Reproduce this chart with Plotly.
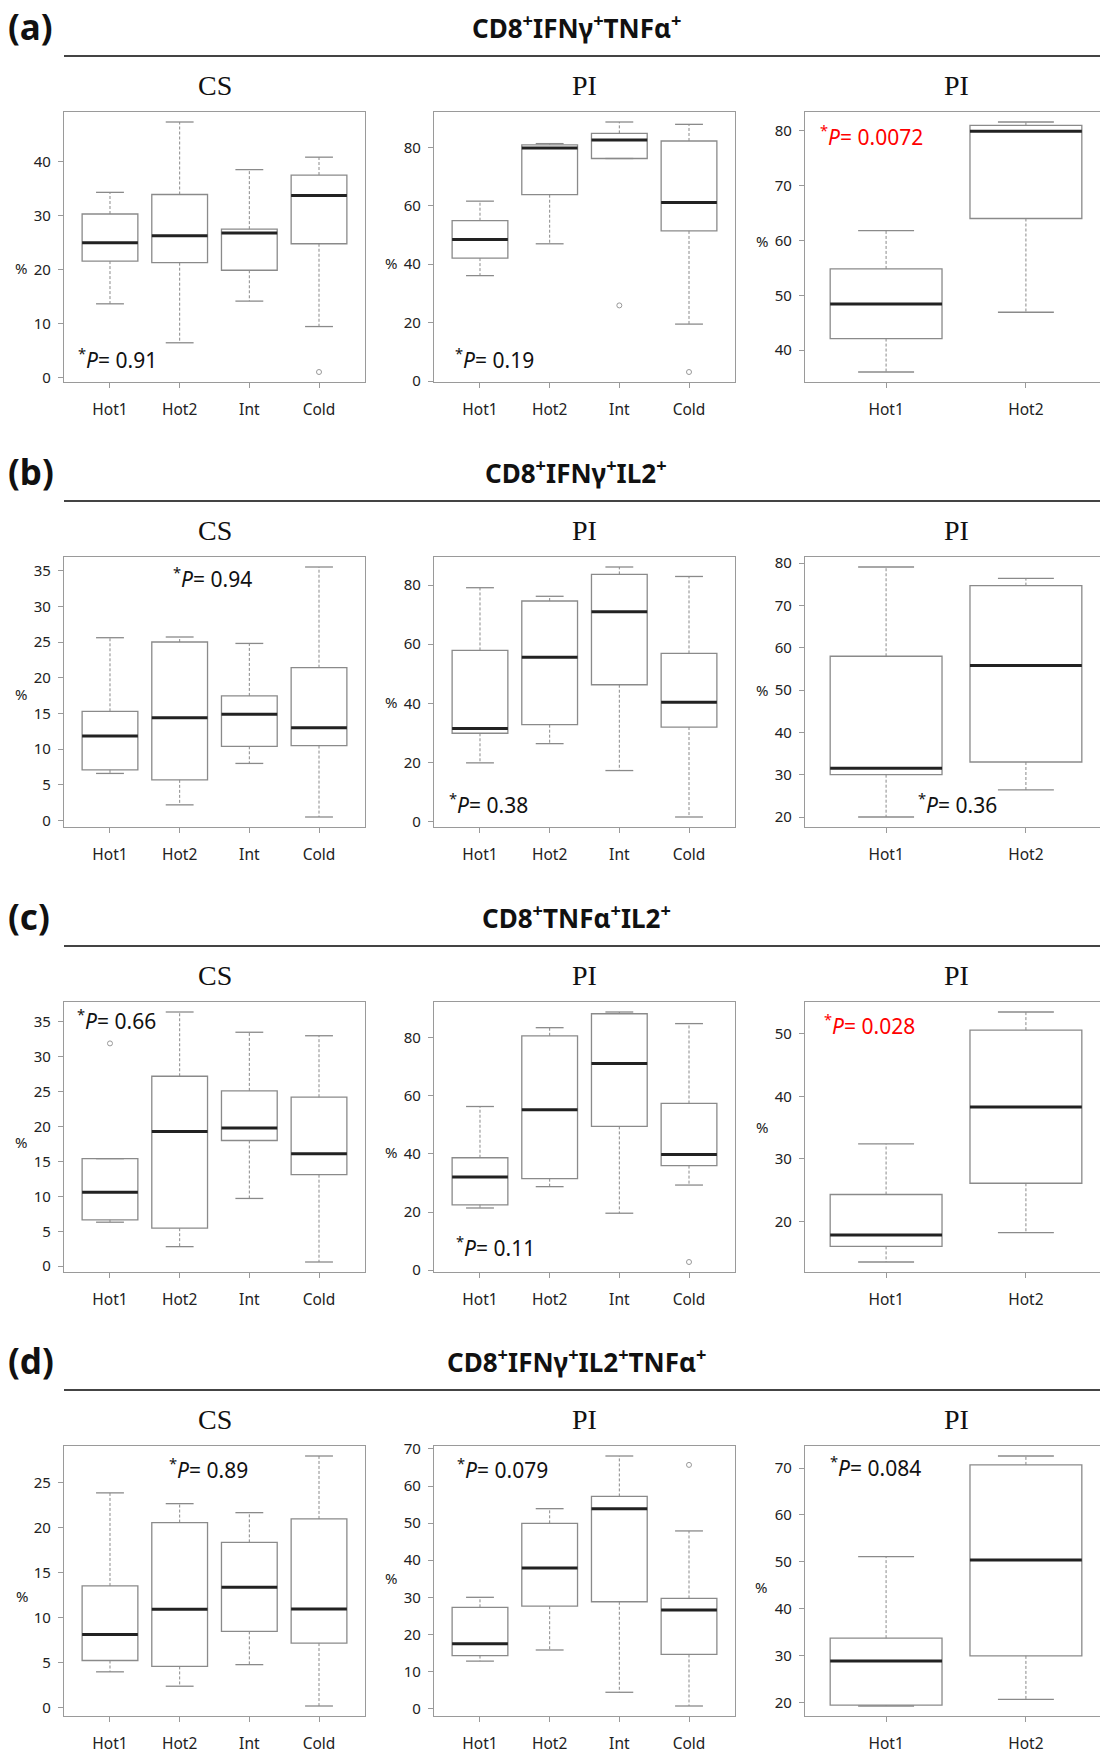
import plotly.graph_objects as go

W, H = 1100, 1750

# ---------------- data ----------------
groups4 = ["Hot1", "Hot2", "Int", "Cold"]
groups2 = ["Hot1", "Hot2"]

row_labels = ["(a)", "(b)", "(c)", "(d)"]
row_titles = [
    "CD8<sup>+</sup>IFNγ<sup>+</sup>TNFα<sup>+</sup>",
    "CD8<sup>+</sup>IFNγ<sup>+</sup>IL2<sup>+</sup>",
    "CD8<sup>+</sup>TNFα<sup>+</sup>IL2<sup>+</sup>",
    "CD8<sup>+</sup>IFNγ<sup>+</sup>IL2<sup>+</sup>TNFα<sup>+</sup>",
]
panel_titles = ["CS", "PI", "PI"]

# five-number summaries per group: [lower whisker, Q1, median, Q3, upper whisker]
a_cs = [[13.7, 21.6, 25.0, 30.3, 34.3], [6.5, 21.3, 26.3, 33.9, 47.3],
        [14.2, 19.9, 26.8, 27.5, 38.5], [9.5, 24.8, 33.7, 37.5, 40.8]]
a_cs_out = [("Cold", 1.1)]
a_pi4 = [[36.1, 42.1, 48.5, 54.9, 61.6], [47.0, 63.8, 79.8, 80.9, 81.3],
         [76.2, 76.2, 82.5, 84.8, 88.7], [19.5, 51.4, 61.1, 82.2, 87.9]]
a_pi4_out = [("Int", 25.9), ("Cold", 3.1)]
a_pi2 = [[36.0, 42.1, 48.4, 54.8, 61.8], [46.9, 64.0, 79.9, 81.0, 81.6]]
a_pi2_out = []

b_cs = [[6.6, 7.1, 11.85, 15.3, 25.6], [2.2, 5.7, 14.4, 25.0, 25.7],
        [8.0, 10.4, 14.9, 17.45, 24.8], [0.5, 10.5, 13.0, 21.4, 35.5]]
b_cs_out = []
b_pi4 = [[19.9, 29.9, 31.5, 57.9, 79.1], [26.4, 32.8, 55.6, 74.6, 76.2],
         [17.3, 46.3, 71.0, 83.6, 86.1], [1.6, 32.0, 40.4, 56.9, 82.9]]
b_pi4_out = []
b_pi2 = [[20.0, 30.0, 31.5, 58.0, 79.1], [26.4, 33.0, 55.8, 74.7, 76.4]]
b_pi2_out = []

c_cs = [[6.3, 6.64, 10.6, 15.4, 15.4], [2.8, 5.44, 19.3, 27.2, 36.4],
        [9.7, 18.0, 19.8, 25.1, 33.5], [0.6, 13.1, 16.1, 24.2, 33.0]]
c_cs_out = [("Hot1", 31.9)]
c_pi4 = [[21.4, 22.5, 32.1, 38.7, 56.35], [28.75, 31.5, 55.2, 80.7, 83.5],
         [19.6, 49.5, 71.2, 88.3, 88.9], [29.3, 36.0, 39.8, 57.4, 84.9]]
c_pi4_out = [("Cold", 2.8)]
c_pi2 = [[13.5, 16.0, 17.8, 24.3, 32.4], [18.2, 26.1, 38.3, 50.6, 53.5]]
c_pi2_out = []

d_cs = [[4.0, 5.26, 8.15, 13.55, 23.9], [2.4, 4.6, 10.96, 20.6, 22.7],
        [4.8, 8.5, 13.4, 18.4, 21.7], [0.2, 7.2, 11.0, 21.0, 28.0]]
d_cs_out = []
d_pi4 = [[12.8, 14.3, 17.5, 27.3, 30.0], [15.8, 27.6, 37.9, 49.95, 53.9],
         [4.4, 28.8, 53.9, 57.2, 68.1], [0.7, 14.6, 26.6, 29.7, 47.9]]
d_pi4_out = [("Cold", 65.7)]
d_pi2 = [[19.2, 19.4, 28.8, 33.7, 51.1], [20.6, 29.9, 50.4, 70.7, 72.6]]
d_pi2_out = []

# y tick values per panel
a_ticks = [[0, 10, 20, 30, 40], [0, 20, 40, 60, 80], [40, 50, 60, 70, 80]]
b_ticks = [[0, 5, 10, 15, 20, 25, 30, 35], [0, 20, 40, 60, 80], [20, 30, 40, 50, 60, 70, 80]]
c_ticks = [[0, 5, 10, 15, 20, 25, 30, 35], [0, 20, 40, 60, 80], [20, 30, 40, 50]]
d_ticks = [[0, 5, 10, 15, 20, 25], [0, 10, 20, 30, 40, 50, 60, 70], [20, 30, 40, 50, 60, 70]]

# p-values per panel and whether significant
a_p = ["0.91", "0.19", "0.0072"]
b_p = ["0.94", "0.38", "0.36"]
c_p = ["0.66", "0.11", "0.028"]
d_p = ["0.89", "0.079", "0.084"]
a_sig = [False, False, True]
b_sig = [False, False, False]
c_sig = [False, False, True]
d_sig = [False, False, False]

# ---------------- layout constants ----------------
rows_stats = [[a_cs, a_pi4, a_pi2], [b_cs, b_pi4, b_pi2], [c_cs, c_pi4, c_pi2], [d_cs, d_pi4, d_pi2]]
rows_out = [[a_cs_out, a_pi4_out, a_pi2_out], [b_cs_out, b_pi4_out, b_pi2_out],
            [c_cs_out, c_pi4_out, c_pi2_out], [d_cs_out, d_pi4_out, d_pi2_out]]
rows_ticks = [a_ticks, b_ticks, c_ticks, d_ticks]
rows_p = [a_p, b_p, c_p, d_p]
rows_sig = [a_sig, b_sig, c_sig, d_sig]

row_top = [112, 557, 1002, 1446]
plot_h = 270
col_x = [(64, 365), (434, 735), (805, 1107)]

pval_pos = [[(76, 358), (453, 358), (818, 135)],
            [(171, 577), (447, 803), (916, 803)],
            [(75, 1019), (454, 1246), (822, 1024)],
            [(167, 1468), (455, 1468), (828, 1466)]]
pct_pos = [[(21, 268), (391, 263), (762, 241)],
           [(21, 694), (391, 702), (762, 690)],
           [(21, 1142), (391, 1152), (762, 1127)],
           [(22, 1596), (391, 1578), (761, 1587)]]

FONT = "Noto Sans"
FRAME = "#9a9a9a"
BOXC = "#8a8a8a"
TXT = "#222222"

fig = go.Figure()
layout = {}
annotations = []
shapes = []

def px(x):
    return x / W

def py(y):
    return 1 - y / H

for r in range(4):
    top = row_top[r]
    # row label, row title, separator line
    annotations.append(dict(text="<b>" + row_labels[r] + "</b>", x=px(6), y=py(top - 86),
                            xref="paper", yref="paper", xanchor="left", yanchor="middle",
                            showarrow=False, font=dict(family=FONT, size=35, color="#111")))
    annotations.append(dict(text="<b>" + row_titles[r] + "</b>", x=px(576), y=py(top - 85),
                            xref="paper", yref="paper", xanchor="center", yanchor="middle",
                            showarrow=False, font=dict(family=FONT, size=26, color="#111")))
    shapes.append(dict(type="line", xref="paper", yref="paper", x0=px(64), x1=1,
                       y0=py(top - 56), y1=py(top - 56), line=dict(color="#444", width=2)))
    for c in range(3):
        k = r * 3 + c + 1
        xname = "x" if k == 1 else f"x{k}"
        yname = "y" if k == 1 else f"y{k}"
        xkey = "xaxis" if k == 1 else f"xaxis{k}"
        ykey = "yaxis" if k == 1 else f"yaxis{k}"
        stats = rows_stats[r][c]
        outs = rows_out[r][c]
        groups = groups4 if len(stats) == 4 else groups2
        n = len(groups)
        pos = list(range(1, n + 1))
        low = [s[0] for s in stats]
        q1 = [s[1] for s in stats]
        med = [s[2] for s in stats]
        q3 = [s[3] for s in stats]
        high = [s[4] for s in stats]

        # boxes
        fig.add_trace(go.Box(x=pos, q1=q1, median=med, q3=q3, lowerfence=q1, upperfence=q3,
                             width=0.8, fillcolor="white", line=dict(color=BOXC, width=1.3),
                             boxpoints=False, hoverinfo="skip", showlegend=False,
                             xaxis=xname, yaxis=yname))
        # whiskers (dashed), staples, medians
        wx, wy, cx, cy, mx, my = [], [], [], [], [], []
        for i in range(n):
            p = pos[i]
            wx += [p, p, None, p, p, None]
            wy += [q3[i], high[i], None, q1[i], low[i], None]
            cx += [p - 0.2, p + 0.2, None, p - 0.2, p + 0.2, None]
            cy += [high[i], high[i], None, low[i], low[i], None]
            mx += [p - 0.4, p + 0.4, None]
            my += [med[i], med[i], None]
        fig.add_trace(go.Scatter(x=wx, y=wy, mode="lines", line=dict(color=BOXC, width=1, dash="3px,2px"),
                                 hoverinfo="skip", showlegend=False, xaxis=xname, yaxis=yname))
        fig.add_trace(go.Scatter(x=cx, y=cy, mode="lines", line=dict(color=BOXC, width=1.3),
                                 hoverinfo="skip", showlegend=False, xaxis=xname, yaxis=yname))
        fig.add_trace(go.Scatter(x=mx, y=my, mode="lines", line=dict(color="#222", width=3),
                                 hoverinfo="skip", showlegend=False, xaxis=xname, yaxis=yname))
        if outs:
            fig.add_trace(go.Scatter(x=[groups.index(g) + 1 for g, v in outs], y=[v for g, v in outs],
                                     mode="markers",
                                     marker=dict(symbol="circle-open", size=5, color="#999",
                                                 line=dict(width=1)),
                                     hoverinfo="skip", showlegend=False, xaxis=xname, yaxis=yname))

        # ranges (R-like 4% extension)
        vals = low + high + [v for g, v in outs]
        lo, hi = min(vals), max(vals)
        pad = 0.04 * (hi - lo)
        yr = [lo - pad, hi + pad]
        xlo, xhi = 0.5 - 0.04 * n, n + 0.5 + 0.04 * n
        x0p, x1p = col_x[c]
        if x1p > W:
            xhi = xlo + (xhi - xlo) * (W - x0p) / (x1p - x0p)
            x1p = W
        layout[xkey] = dict(domain=[px(x0p), px(x1p)], range=[xlo, xhi], anchor=yname,
                            tickvals=pos, ticktext=groups, ticks="outside", ticklen=5,
                            tickcolor=FRAME, showline=True, linecolor=FRAME, linewidth=1.3,
                            mirror=True, showgrid=False, zeroline=False, automargin=False,
                            ticklabelstandoff=8,
                            tickfont=dict(family=FONT, size=15.5, color=TXT))
        layout[ykey] = dict(domain=[py(top + plot_h), py(top)], range=yr, anchor=xname,
                            tickvals=rows_ticks[r][c], ticks="outside", ticklen=5,
                            tickcolor=FRAME, showline=True, linecolor=FRAME, linewidth=1.3,
                            mirror=(c < 2), showgrid=False, zeroline=False, automargin=False,
                            ticklabelstandoff=4,
                            tickfont=dict(family=FONT, size=15, color=TXT))
        # panel title
        annotations.append(dict(text=panel_titles[c], x=px((col_x[c][0] + col_x[c][1]) / 2),
                                y=py(top - 27), xref="paper", yref="paper",
                                xanchor="center", yanchor="middle", showarrow=False,
                                font=dict(family="Liberation Serif", size=28, color="#111")))
        # p-value
        colr = "#ff0000" if rows_sig[r][c] else "#111"
        ppx, ppy = pval_pos[r][c]
        annotations.append(dict(text="<sup>*</sup><i>P</i>= " + rows_p[r][c], x=px(ppx), y=py(ppy),
                                xref="paper", yref="paper", xanchor="left", yanchor="middle",
                                showarrow=False, font=dict(family=FONT, size=21, color=colr)))
        # % label
        qx, qy = pct_pos[r][c]
        annotations.append(dict(text="%", x=px(qx), y=py(qy), xref="paper", yref="paper",
                                xanchor="center", yanchor="middle", showarrow=False,
                                font=dict(family=FONT, size=15, color=TXT)))

fig.update_layout(width=W, height=H, margin=dict(l=0, r=0, t=0, b=0, autoexpand=False),
                  paper_bgcolor="white", plot_bgcolor="white",
                  annotations=annotations, shapes=shapes, showlegend=False, **layout)

fig.write_html("out.html", config={"displayModeBar": False},
               post_script="document.body.style.margin='0';document.body.style.padding='0';"
                           "document.documentElement.style.overflow='hidden';")
